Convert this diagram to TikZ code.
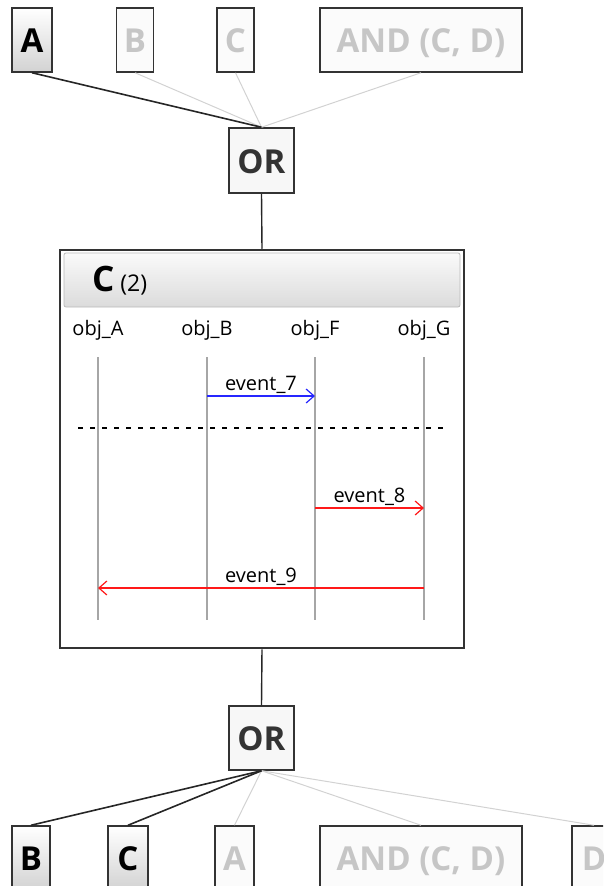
\documentclass[tikz,border=0pt]{standalone}
\usepackage{fontspec}
\setmainfont{Open Sans}
\usetikzlibrary{arrows.meta,positioning}

\begin{document}
\begin{tikzpicture}[x=1pt, y=-1pt,
    gatebox/.style={draw=black!80, line width=1.5pt, fill=gray!6, inner sep=0pt,
        minimum height=64pt, text height=25pt, text depth=0pt,
        font=\fontsize{33}{33}\selectfont\bfseries, text=black!80},
    activebox/.style={gatebox, top color=white, bottom color=gray!35, text=black},
    dimbox/.style={gatebox, fill=gray!3, text=gray!45},
    activelink/.style={black!85, line width=1.6pt},
    dimlink/.style={gray!35, line width=1pt},
    objlabel/.style={font=\fontsize{20}{20}\selectfont, inner sep=1pt},
    lifeline/.style={gray!70, line width=1.2pt},
    msg/.style={line width=1.2pt, -{Straight Barb[length=8pt, width=14pt]}},
    msglabel/.style={font=\fontsize{20}{20}\selectfont, text=black, inner sep=2pt, above}
]
    \useasboundingbox (0,0) rectangle (603,886);
    \clip (0,0) rectangle (603,886);

    % top row
    \node[activebox, minimum width=40pt] (topA) at (32,40) {A};
    \node[dimbox, minimum width=37pt] (topB) at (135,40) {B};
    \node[dimbox, minimum width=37pt] (topC) at (235.5,40) {C};
    \node[dimbox, minimum width=202pt] (topAND) at (421,40) {AND (C, D)};
    \node[gatebox, minimum width=65pt, minimum height=65pt] (orTop) at (261.5,160.5) {OR};

    \draw[dimlink] (topB.south) -- (orTop.north);
    \draw[dimlink] (topC.south) -- (orTop.north);
    \draw[dimlink] (topAND.south) -- (orTop.north);
    \draw[activelink] (topA.south) -- (orTop.north);

    % sequence frame
    \node[draw=black!80, line width=2.5pt, fill=white, minimum width=404pt,
        minimum height=398pt, inner sep=0pt] (frame) at (262,449) {};
    \node[draw=gray!55, line width=0.8pt, rounded corners=2pt, top color=gray!4,
        bottom color=gray!28, minimum width=396pt, minimum height=54pt,
        inner sep=0pt] (header) at (262,280) {};
    \node[anchor=west, inner sep=0pt] (title) at (92,281)
        {\fontsize{35}{35}\selectfont\bfseries C\,\fontsize{23}{23}\selectfont\mdseries (2)};

    \draw[black!85, line width=1.4pt] (orTop.south) -- (frame.north);

    % lifelines
    \node[objlabel] (objA) at (98,330) {obj\_A};
    \node[objlabel] (objB) at (207,330) {obj\_B};
    \node[objlabel] (objF) at (315,330) {obj\_F};
    \node[objlabel] (objG) at (424,330) {obj\_G};
    \foreach \o/\x in {A/98, B/207, F/315, G/424} {
        \coordinate (top\o) at (\x,357);
        \coordinate (end\o) at (\x,620);
        \draw[lifeline] (top\o) -- (end\o);
    }

    % messages
    \draw[msg, blue!85] (topB |- 0,396) -- (topF |- 0,396)
        node[msglabel, midway] (ev7) {event\_7};
    \coordinate (sepL) at (78,428);
    \coordinate (sepR) at (448,428);
    \draw[black, line width=1.2pt, dash pattern=on 5pt off 7pt] (sepL) -- (sepR);
    \draw[msg, red!90] (topF |- 0,508) -- (topG |- 0,508)
        node[msglabel, midway] (ev8) {event\_8};
    \draw[msg, red!90] (topG |- 0,588) -- (topA |- 0,588)
        node[msglabel, midway] (ev9) {event\_9};

    % bottom row
    \node[gatebox, minimum width=65pt] (orBot) at (261.5,738) {OR};
    \draw[black!85, line width=1.4pt] (frame.south) -- (orBot.north);

    \node[activebox, minimum width=38pt] (botB) at (31,858) {B};
    \node[activebox, minimum width=40pt] (botC) at (128,858) {C};
    \node[dimbox, minimum width=39pt] (botA) at (234.5,858) {A};
    \node[dimbox, minimum width=202pt] (botAND) at (421,858) {AND (C, D)};
    \node[dimbox, minimum width=44pt] (botD) at (594,858) {D};

    \draw[dimlink] (orBot.south) -- (botA.north);
    \draw[dimlink] (orBot.south) -- (botAND.north);
    \draw[dimlink] (orBot.south) -- (botD.north);
    \draw[activelink] (orBot.south) -- (botB.north);
    \draw[activelink] (orBot.south) -- (botC.north);
\end{tikzpicture}
\end{document}
